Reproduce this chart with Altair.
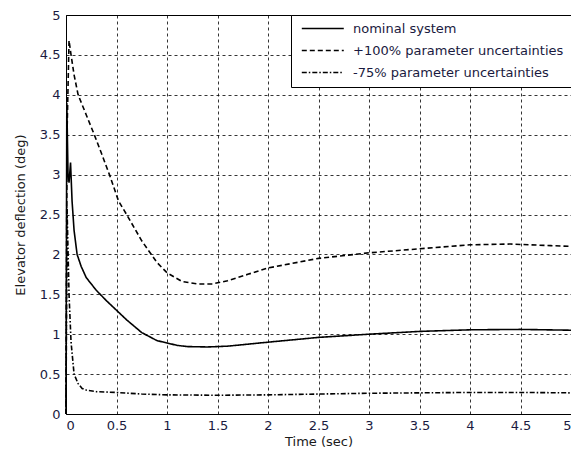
import altair as alt
import pandas as pd

series_names = ["nominal system", "+100% parameter uncertainties", "-75% parameter uncertainties"]

t_nominal = [0, 0.008, 0.02, 0.03, 0.045, 0.06, 0.08, 0.11, 0.15, 0.2, 0.3, 0.4, 0.5, 0.6, 0.75,
             0.9, 1.0, 1.1, 1.2, 1.4, 1.6, 1.8, 2.0, 2.5, 3.0, 3.5, 4.0, 4.5, 5.0]
y_nominal = [0, 3.9, 3.0, 2.9, 3.15, 2.67, 2.3, 2.0, 1.85, 1.71, 1.55, 1.42, 1.30, 1.18, 1.02,
             0.92, 0.89, 0.86, 0.845, 0.84, 0.85, 0.875, 0.9, 0.96, 1.0, 1.035, 1.055, 1.06, 1.05]

t_plus = [0, 0.01, 0.03, 0.05, 0.08, 0.12, 0.2, 0.28, 0.35, 0.43, 0.52, 0.6, 0.75, 0.9, 1.0,
          1.15, 1.3, 1.45, 1.6, 1.8, 2.0, 2.5, 3.0, 3.5, 4.0, 4.4, 4.8, 5.0]
y_plus = [0, 3.5, 4.68, 4.5, 4.25, 4.0, 3.75, 3.5, 3.27, 3.0, 2.67, 2.5, 2.17, 1.9, 1.77,
          1.66, 1.63, 1.63, 1.67, 1.75, 1.83, 1.95, 2.02, 2.07, 2.12, 2.13, 2.11, 2.1]

t_minus = [0, 0.01, 0.03, 0.05, 0.08, 0.12, 0.16, 0.2, 0.3, 0.5, 0.75, 1.0, 1.5, 2.0, 2.5,
           3.0, 3.5, 4.0, 4.5, 5.0]
y_minus = [0, 2.6, 1.5, 0.9, 0.5, 0.38, 0.32, 0.3, 0.28, 0.27, 0.25, 0.24, 0.235, 0.24, 0.25,
           0.26, 0.265, 0.27, 0.27, 0.265]

x_ticks = [0, 0.5, 1, 1.5, 2, 2.5, 3, 3.5, 4, 4.5, 5]
y_ticks = [0, 0.5, 1, 1.5, 2, 2.5, 3, 3.5, 4, 4.5, 5]

rows = []
for name, ts, ys in zip(series_names, [t_nominal, t_plus, t_minus], [y_nominal, y_plus, y_minus]):
    for i, (t, y) in enumerate(zip(ts, ys)):
        rows.append({"series": name, "t": t, "y": y, "order": i})
df = pd.DataFrame(rows)

font = "DejaVu Sans"

chart = alt.Chart(df).mark_line(color="black", strokeWidth=1.6).encode(
    x=alt.X("t:Q", title="Time (sec)",
            scale=alt.Scale(domain=[0, 5], nice=False, zero=False),
            axis=alt.Axis(values=x_ticks, labelExpr="datum.value", grid=True)),
    y=alt.Y("y:Q", title="Elevator deflection (deg)",
            scale=alt.Scale(domain=[0, 5], nice=False, zero=False),
            axis=alt.Axis(values=y_ticks, labelExpr="datum.value", grid=True)),
    strokeDash=alt.StrokeDash("series:N",
                              scale=alt.Scale(domain=series_names,
                                              range=[[1, 0], [5, 3], [5, 2, 1.5, 2]]),
                              legend=alt.Legend(title=None)),
    order="order:Q",
    detail="series:N",
).properties(
    width=505, height=399,
    autosize=alt.AutoSizeParams(type="none"),
    padding={"left": 58, "top": 7, "right": 0, "bottom": 37},
).configure_view(
    stroke="black", strokeWidth=1
).configure_axis(
    gridColor="black", gridDash=[3, 3], gridOpacity=1, gridWidth=0.8,
    domain=False, ticks=False,
    labelFont=font, labelFontSize=13, labelColor="#1a1a40", labelPadding=6,
    titleFont=font, titleFontSize=13, titleFontWeight="normal", titleColor="#1a1a1a",
).configure_axisX(titlePadding=3, labelPadding=5).configure_axisY(titlePadding=12).configure_legend(
    orient="top-right", offset=0, padding=7,
    strokeColor="black", fillColor="white",
    symbolType="M-0.6,0H8.73", symbolSize=81, symbolStrokeWidth=1.6, symbolStrokeColor="black",
    labelFont=font, labelFontSize=13, labelColor="#1a1a40", labelLimit=0,
    rowPadding=8, labelOffset=42,
)

chart.save("out.html", embed_options={"renderer": "svg", "actions": False})
